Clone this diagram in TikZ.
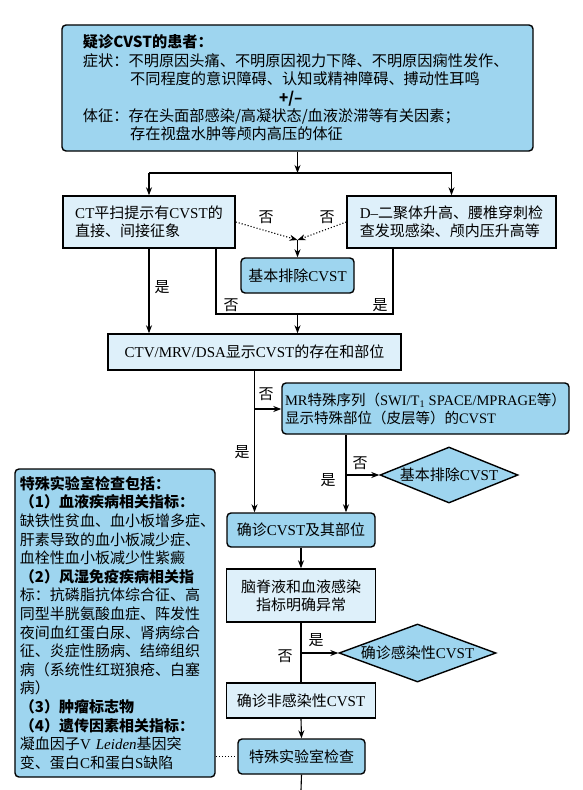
\documentclass[tikz,border=0pt]{standalone}
\usepackage{fontspec}
\setmainfont{Noto Sans CJK SC}
\newfontfamily\serifl{Liberation Serif}
\usetikzlibrary{arrows.meta,shapes.geometric}
\definecolor{midblue}{RGB}{158,213,239}
\definecolor{lightblue}{RGB}{222,240,250}
\newcommand\lt[1]{{\serifl #1}}
\newcommand\fs[2]{\fontsize{#1bp}{#2bp}\selectfont}
\tikzset{
  box/.style={draw=black, line width=1.4bp, inner sep=0pt, font=\fs{15}{18}},
  lbox/.style={box, fill=lightblue},
  rbox/.style={box, fill=midblue, rounded corners=4bp},
  dia/.style={box, fill=midblue, diamond},
  conn/.style={line width=1.1bp},
  arr/.style={conn, -{Stealth[length=8bp,width=6bp,inset=2.5bp]}},
  darr/.style={line width=1.1bp, dotted, -{Stealth[length=8bp,width=6bp,inset=2.5bp]}},
  dots/.style={line width=1.1bp, dotted},
  lab/.style={inner sep=0pt, font=\fs{15}{18}}
}
\begin{document}
\begin{tikzpicture}[x=1bp,y=-1bp]
\useasboundingbox (0,0) rectangle (583,790);

% boxes
\node[rbox, minimum width=471bp, minimum height=126bp, text width=429bp, inner xsep=21bp, align=left, font=\fs{15.2}{18.4}] (top) at (297.5,88)
{\textbf{疑诊CVST的患者：}\\
症状：不明原因头痛、不明原因视力下降、不明原因痫性发作、\\
\hspace*{3.1em}不同程度的意识障碍、认知或精神障碍、搏动性耳鸣\\
\hspace*{196bp}\textbf{+/–}\\
体征：存在头面部感染/高凝状态/血液淤滞等有关因素；\\
\hspace*{3.1em}存在视盘水肿等颅内高压的体征};

\node[lbox, minimum width=172bp, minimum height=52bp, align=left] (ct) at (149,222)
{\lt{CT}平扫提示有\lt{CVST}的\\直接、间接征象};
\node[lbox, minimum width=209bp, minimum height=52bp, align=left] (dd) at (451.5,222)
{\lt{D–}二聚体升高、腰椎穿刺检\\查发现感染、颅内压升高等};
\node[rbox, minimum width=113bp, minimum height=35bp] (ex1) at (297.5,275.5) {基本排除\lt{CVST}};
\node[lbox, minimum width=293bp, minimum height=36bp] (ctv) at (254.5,352)
{\lt{CTV/MRV/DSA}显示\lt{CVST}的存在和部位};
\node[rbox, minimum width=287bp, minimum height=51bp, align=left, font=\fs{14.5}{18}] (mr) at (425.5,408.5)
{\lt{MR}特殊序列（\lt{SWI/T\textsubscript{1} SPACE/MPRAGE}等）\\显示特殊部位（皮层等）的\lt{CVST}};
\node[dia, minimum width=138bp, minimum height=56bp, aspect=2.46] (ex2) at (449,475) {基本排除\lt{CVST}};
\node[rbox, minimum width=148bp, minimum height=34bp] (conf) at (301,530) {确诊\lt{CVST}及其部位};
\node[lbox, minimum width=149bp, minimum height=53bp, align=center] (csf) at (301,595.5)
{脑脊液和血液感染\\指标明确异常};
\node[dia, minimum width=157bp, minimum height=58bp, aspect=2.7] (inf) at (417.5,653) {确诊感染性\lt{CVST}};
\node[lbox, minimum width=149bp, minimum height=35bp] (noninf) at (301,700.5) {确诊非感染性\lt{CVST}};
\node[rbox, minimum width=127bp, minimum height=35bp] (lab) at (301.5,756.5) {特殊实验室检查};
\node[rbox, minimum width=200bp, minimum height=308bp, text width=190bp, inner xsep=5bp, align=left, font=\fs{15}{18.6}] (left) at (115,623)
{\textbf{特殊实验室检查包括：}\\
\textbf{（1）血液疾病相关指标：}\\
缺铁性贫血、血小板增多症、\\
肝素导致的血小板减少症、\\
血栓性血小板减少性紫癜\\
\textbf{（2）风湿免疫疾病相关指}\\
标：抗磷脂抗体综合征、高\\
同型半胱氨酸血症、阵发性\\
夜间血红蛋白尿、肾病综合\\
征、炎症性肠病、结缔组织\\
病（系统性红斑狼疮、白塞\\
病）\\
\textbf{（3）肿瘤标志物}\\
\textbf{（4）遗传因素相关指标：}\\
凝血因子\lt{V \textit{Leiden}}基因突\\
变、蛋白\lt{C}和蛋白\lt{S}缺陷};

% coordinates
\coordinate (jt) at (297.5,173);
\coordinate (jl) at (149,173);
\coordinate (jr) at (451.5,173);
\coordinate (m) at (297.5,240);
\coordinate (la) at (216,314);
\coordinate (lb) at (393,314);
\coordinate (lm) at (297.5,314);
\coordinate (b1) at (254.5,409);
\coordinate (b2) at (346,475);
\coordinate (b3) at (301,653);
\coordinate (endp) at (301,790);

% connectors
\draw[arr] (top.south) -- (jt);
\draw[conn] (jl) -- (jr);
\draw[arr] (jl) -- (ct.north);
\draw[arr] (jr) -- (dd.north);
\draw[darr] (ct.east) -- (m);
\draw[darr] (dd.west) -- (m);
\draw[arr] (m) -- (ex1.north);
\draw[conn] (ct.south -| la) -- (la) -- (lb) -- (dd.south -| lb);
\draw[arr] (lm) -- (lm |- ctv.north);
\draw[arr] (ct.south) -- (ct.south |- ctv.north);
\draw[conn] (ctv.south) -- (b1);
\draw[arr] (b1) -- (b1 -| mr.west);
\draw[arr] (b1) -- (b1 |- conf.north);
\draw[conn] (mr.south -| b2) -- (b2);
\draw[arr] (b2) -- (ex2.west);
\draw[arr] (b2) -- (b2 |- conf.north);
\draw[arr] (conf.south) -- (csf.north);
\draw[conn] (csf.south) -- (noninf.north);
\draw[arr] (b3) -- (inf.west);
\draw[arr] (noninf.south) -- (lab.north);
\draw[conn] (lab.south) -- (endp);
\draw[dots] (left.east |- lab.west) -- (lab.west);

% labels
\node[lab] (n1) at (266,217) {否};
\node[lab] (n2) at (327,217) {否};
\node[lab] (n3) at (231,305) {否};
\node[lab] (y1) at (380,305) {是};
\node[lab] (y2) at (162,287) {是};
\node[lab] (n4) at (266,394) {否};
\node[lab] (y3) at (242,452) {是};
\node[lab] (n5) at (360,463) {否};
\node[lab] (y4) at (328,480) {是};
\node[lab] (y5) at (316,640) {是};
\node[lab] (n6) at (285,656) {否};
\end{tikzpicture}
\end{document}
